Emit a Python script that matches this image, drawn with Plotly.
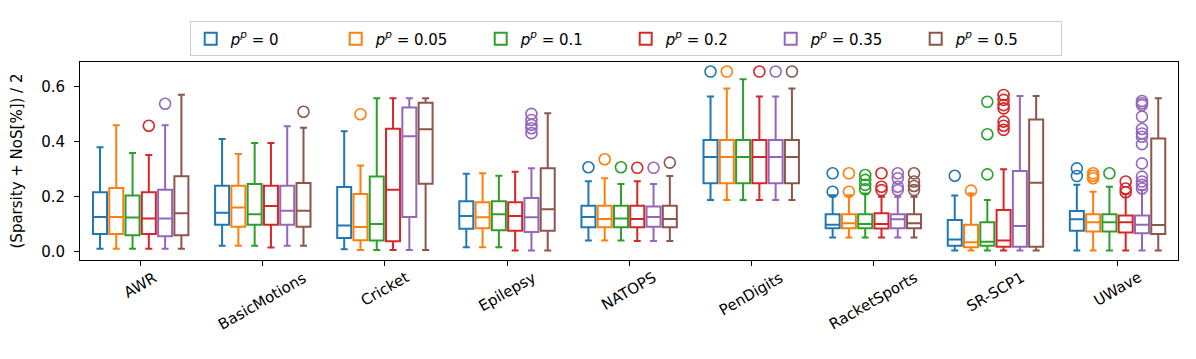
import plotly.graph_objects as go

datasets = ["AWR", "BasicMotions", "Cricket", "Epilepsy", "NATOPS",
            "PenDigits", "RacketSports", "SR-SCP1", "UWave"]
series_labels = ["<i>p</i><sup><i>p</i></sup> = 0", "<i>p</i><sup><i>p</i></sup> = 0.05",
                 "<i>p</i><sup><i>p</i></sup> = 0.1", "<i>p</i><sup><i>p</i></sup> = 0.2",
                 "<i>p</i><sup><i>p</i></sup> = 0.35", "<i>p</i><sup><i>p</i></sup> = 0.5"]
colors = ["#1f77b4", "#ff7f0e", "#2ca02c", "#d62728", "#9467bd", "#8c564b"]

# rows: series (p=0 ... p=0.5), columns: datasets
lower_whisker = [
    [0.011, 0.022, 0.009, 0.016, 0.041, 0.188, 0.052, 0.004, 0.004],
    [0.011, 0.022, 0.006, 0.016, 0.041, 0.188, 0.052, 0.004, 0.004],
    [0.011, 0.022, 0.006, 0.016, 0.041, 0.188, 0.052, 0.004, 0.004],
    [0.011, 0.015, 0.006, 0.004, 0.039, 0.188, 0.052, 0.004, 0.004],
    [0.011, 0.022, 0.006, 0.004, 0.039, 0.188, 0.052, 0.004, 0.004],
    [0.011, 0.022, 0.006, 0.004, 0.039, 0.188, 0.052, 0.004, 0.004],
]
q1 = [
    [0.064, 0.098, 0.050, 0.083, 0.089, 0.249, 0.085, 0.022, 0.076],
    [0.064, 0.091, 0.042, 0.085, 0.089, 0.249, 0.085, 0.016, 0.073],
    [0.060, 0.098, 0.041, 0.078, 0.089, 0.249, 0.085, 0.022, 0.073],
    [0.064, 0.098, 0.038, 0.076, 0.089, 0.249, 0.084, 0.018, 0.070],
    [0.056, 0.098, 0.126, 0.072, 0.091, 0.249, 0.085, 0.018, 0.067],
    [0.060, 0.091, 0.247, 0.076, 0.089, 0.249, 0.085, 0.018, 0.064],
]
median = [
    [0.126, 0.142, 0.095, 0.130, 0.126, 0.344, 0.098, 0.044, 0.118],
    [0.126, 0.161, 0.090, 0.125, 0.119, 0.344, 0.103, 0.034, 0.107],
    [0.124, 0.136, 0.101, 0.136, 0.121, 0.344, 0.101, 0.036, 0.107],
    [0.121, 0.166, 0.225, 0.130, 0.119, 0.344, 0.101, 0.041, 0.107],
    [0.121, 0.149, 0.420, 0.125, 0.126, 0.344, 0.118, 0.093, 0.098],
    [0.140, 0.149, 0.445, 0.154, 0.119, 0.344, 0.103, 0.251, 0.097],
]
q3 = [
    [0.216, 0.240, 0.235, 0.183, 0.167, 0.406, 0.136, 0.115, 0.148],
    [0.232, 0.240, 0.210, 0.180, 0.167, 0.406, 0.136, 0.098, 0.136],
    [0.204, 0.246, 0.273, 0.183, 0.167, 0.406, 0.136, 0.107, 0.136],
    [0.216, 0.240, 0.447, 0.180, 0.167, 0.406, 0.140, 0.152, 0.132],
    [0.225, 0.240, 0.524, 0.195, 0.164, 0.406, 0.136, 0.293, 0.132],
    [0.274, 0.250, 0.542, 0.303, 0.167, 0.406, 0.136, 0.481, 0.412],
]
upper_whisker = [
    [0.380, 0.410, 0.438, 0.283, 0.256, 0.564, 0.205, 0.204, 0.243],
    [0.460, 0.355, 0.313, 0.285, 0.267, 0.593, 0.205, 0.212, 0.218],
    [0.359, 0.395, 0.558, 0.276, 0.246, 0.627, 0.212, 0.188, 0.236],
    [0.352, 0.395, 0.558, 0.291, 0.256, 0.564, 0.200, 0.300, 0.210],
    [0.460, 0.456, 0.558, 0.303, 0.246, 0.564, 0.200, 0.566, 0.224],
    [0.571, 0.451, 0.558, 0.503, 0.275, 0.593, 0.200, 0.566, 0.558],
]
# outliers[series][dataset] -> list of values
outliers = [
    [[], [], [], [], [0.307], [0.655], [0.218, 0.285], [0.276], [0.275, 0.303]],
    [[], [], [0.500], [], [0.336], [0.655], [0.218, 0.285], [0.222], [0.267, 0.276, 0.285]],
    [[], [], [], [], [0.307], [], [0.227, 0.243, 0.261, 0.279], [0.281, 0.427, 0.545],
     [0.285]],
    [[0.458], [], [], [], [0.305], [0.655], [0.224, 0.236, 0.285],
     [0.443, 0.458, 0.473, 0.521, 0.533, 0.552, 0.570], [0.216, 0.230, 0.255]],
    [[0.538], [], [], [0.431, 0.449, 0.461, 0.479, 0.501], [0.305], [0.655],
     [0.224, 0.236, 0.267, 0.285], [],
     [0.230, 0.243, 0.255, 0.273, 0.321, 0.391, 0.418, 0.430, 0.446, 0.491,
      0.533, 0.540, 0.548]],
    [[], [0.509], [], [], [0.324], [0.655], [0.224, 0.239, 0.255, 0.285], [], []],
]

n_series = len(series_labels)
group_width = 0.8
slot = group_width / n_series

fig = go.Figure()
for j in range(n_series):
    offset = (j - (n_series - 1) / 2) * slot
    xpos = [i + offset for i in range(len(datasets))]
    fig.add_trace(go.Box(
        x=xpos,
        q1=q1[j], median=median[j], q3=q3[j],
        lowerfence=lower_whisker[j], upperfence=upper_whisker[j],
        name=series_labels[j],
        width=slot * 0.86,
        whiskerwidth=0.5,
        line=dict(color=colors[j], width=2),
        fillcolor="rgba(255,255,255,0)",
        boxpoints=False,
        legendgroup=str(j),
        hoverinfo="skip",
    ))
    ox, oy = [], []
    for i, vals in enumerate(outliers[j]):
        for v in vals:
            ox.append(i + offset)
            oy.append(v)
    fig.add_trace(go.Scatter(
        x=ox, y=oy, mode="markers", cliponaxis=False,
        marker=dict(symbol="circle-open", size=11, color=colors[j],
                    line=dict(width=1.6, color=colors[j])),
        showlegend=False, legendgroup=str(j), hoverinfo="skip",
    ))

for i, name in enumerate(datasets):
    fig.add_annotation(
        x=i, xref="x", y=-0.03, yref="paper",
        text=name, showarrow=False, textangle=-30,
        xanchor="center", yanchor="top",
        font=dict(family="DejaVu Sans", size=15, color="black"),
    )

fig.update_layout(
    width=1196, height=359,
    margin=dict(l=72, r=26, t=54, b=107),
    plot_bgcolor="white", paper_bgcolor="white",
    boxmode="overlay",
    font=dict(family="DejaVu Sans", size=14, color="black"),
    legend=dict(
        orientation="h", x=0.497, xanchor="center", y=1.205, yanchor="top",
        bordercolor="#cccccc", borderwidth=1, bgcolor="white",
        font=dict(size=15), entrywidth=100, entrywidthmode="pixels",
        traceorder="normal",
    ),
    xaxis=dict(
        range=[-0.497, 8.495], tickmode="array",
        tickvals=list(range(len(datasets))), showticklabels=False,
        ticks="outside", ticklen=5, tickcolor="black",
        showline=True, linecolor="black", linewidth=1, mirror=True,
        showgrid=False, zeroline=False, automargin=False,
    ),
    yaxis=dict(
        range=[-0.0302, 0.6898], tickvals=[0.0, 0.2, 0.4, 0.6],
        ticktext=["0.0", "0.2", "0.4", "0.6"],
        ticks="outside", ticklen=5, tickcolor="black", ticklabelstandoff=6,
        tickfont=dict(size=15),
        showline=True, linecolor="black", linewidth=1, mirror=True,
        showgrid=False, zeroline=False, automargin=False,
        title=dict(text="(Sparsity + NoS[%]) / 2", standoff=14,
                   font=dict(size=15)),
    ),
)

fig.write_html("out.html")
